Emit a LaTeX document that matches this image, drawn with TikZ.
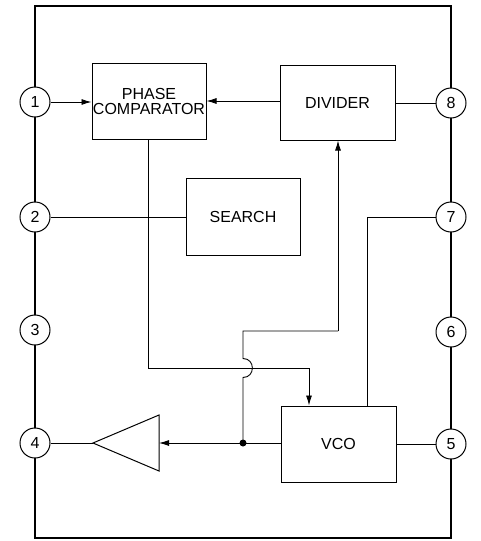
\documentclass[tikz,border=0pt]{standalone}
\usepackage{fontspec}
\setmainfont{Liberation Sans}
\usetikzlibrary{arrows.meta}
\begin{document}
\begin{tikzpicture}[x=1pt,y=-1pt,
  blk/.style={draw, line width=1pt, inner sep=0pt, align=center, font=\fontsize{16}{16}\selectfont},
  pin/.style={draw, circle, fill=white, line width=1pt, minimum size=30pt, inner sep=0pt, font=\fontsize{16}{16}\selectfont},
  wire/.style={line width=0.9pt},
  arr/.style={wire, -{Latex[length=10pt,width=6pt]}},
  frame/.style={line width=2.4pt}]
\useasboundingbox (0,0) rectangle (481,541);
% outer frame
\draw[frame] (35,6) rectangle (451,538);
% pins
\node[pin] (p1) at (35,102) {1};
\node[pin] (p2) at (35,217) {2};
\node[pin] (p3) at (35,330) {3};
\node[pin] (p4) at (35,443) {4};
\node[pin] (p5) at (451,444) {5};
\node[pin] (p6) at (451,332) {6};
\node[pin] (p7) at (451,217) {7};
\node[pin] (p8) at (451,103) {8};
% blocks
\node[blk, minimum width=114pt, minimum height=76pt] (pc) at (149,101) {PHASE\\[-1pt]COMPARATOR};
\node[blk, minimum width=115pt, minimum height=75pt] (div) at (337.5,102.5) {DIVIDER};
\node[blk, minimum width=114pt, minimum height=77pt] (srch) at (243,216.5) {SEARCH};
\node[blk, minimum width=115pt, minimum height=76pt] (vco) at (338.5,444) {VCO};
% amplifier triangle
\coordinate (ampout) at (93,443);
\coordinate (ampin) at (159,443);
\draw[wire, line width=1pt] (ampout) -- (159,415) -- (159,471) -- cycle;
% coordinates for routing
\coordinate (dot) at (243,443);
\coordinate (pcb) at (pc.south -| 148,0);
\coordinate (divb) at (div.south -| 338,0);
\coordinate (vcot) at (vco.north -| 309,0);
\coordinate (vcot7) at (vco.north -| 367,0);
% connections
\draw[arr] (p1) -- (pc.west |- p1);
\draw[arr] (div.west |- pc.east) -- (pc.east);
\draw[wire] (p8) -- (div.east |- p8);
\draw[wire] (p2) -- (srch.west |- p2);
\draw[wire] (p5) -- (vco.east |- p5);
\draw[wire] (p4) -- (ampout);
\draw[arr] (vco.west |- dot) -- (ampin);
\fill (dot) circle (3.5pt);
% phase comparator to VCO
\draw[arr] (pcb) -- (148,368) -- (309,368) -- (vcot);
% VCO output back to divider, with jump
\draw[wire] (dot) -- (243,377.5) .. controls (255.5,377.5) and (255.5,358.5) .. (243,358.5) -- (243,331) -- (338,331);
\draw[arr] (338,331) -- (divb);
% pin 7 to VCO
\draw[wire] (p7) -- (367,217) -- (vcot7);
\end{tikzpicture}
\end{document}
